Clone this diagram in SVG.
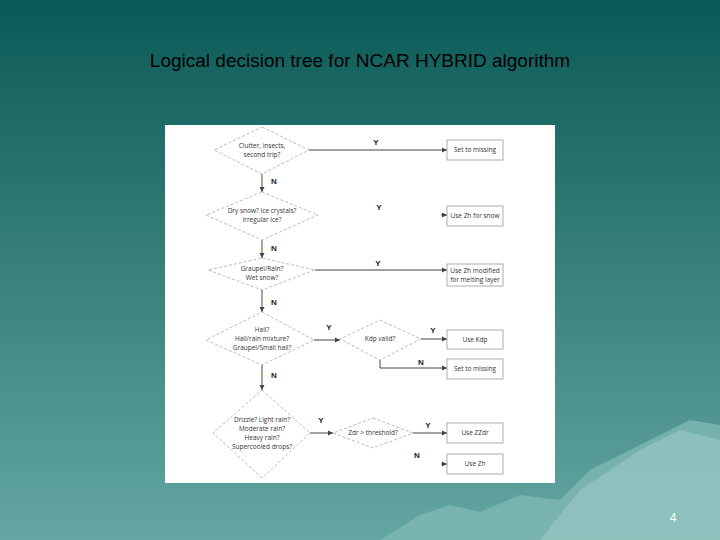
<svg xmlns="http://www.w3.org/2000/svg" width="720" height="540" viewBox="0 0 720 540">
<defs>
<linearGradient id="bg" x1="0" y1="0" x2="0" y2="1"><stop offset="0" stop-color="#0b5a57"/><stop offset="1" stop-color="#64a6a2"/></linearGradient>
<marker id="ar" markerWidth="6" markerHeight="6" refX="5" refY="3" orient="auto"><path d="M0,0.5 L5,3 L0,5.5 Z" fill="#444"/></marker>
</defs>
<style>
.d{fill:#fff;stroke:#aaa;stroke-width:0.8;stroke-dasharray:3,2}
.b{fill:#fff;stroke:#999;stroke-width:0.8}
.t{font-family:"Open Sans","Liberation Sans",sans-serif;font-size:6.5px;fill:#333;text-anchor:middle}
.l{font-family:"Liberation Sans",sans-serif;font-size:8px;font-weight:bold;fill:#222;text-anchor:middle}
.c{stroke:#444;stroke-width:1;fill:none;marker-end:url(#ar)}
</style>
<rect width="720" height="540" fill="url(#bg)"/>
<path d="M380,540 L420,515 L450,505 L480,512 L520,495 L560,500 L590,470 L620,455 L650,440 L690,420 L720,425 L720,540 Z" fill="#7fb8b4" opacity="0.8"/>
<path d="M540,540 L580,490 L610,470 L640,450 L680,430 L720,440 L720,540 Z" fill="#9ccac6" opacity="0.6"/>
<text x="360" y="67" font-family="Liberation Sans,sans-serif" font-size="19" fill="#000" text-anchor="middle">Logical decision tree for NCAR HYBRID algorithm</text>
<text x="673" y="522" font-family="Liberation Sans,sans-serif" font-size="12" fill="#fff" text-anchor="middle">4</text>
<rect x="165" y="125" width="390" height="358" fill="#fff"/>
<g id="connectors">
<path class="c" d="M309,150 H447"/>
<path class="c" d="M262,174 V192"/>
<path class="c" d="M441,215 H447"/>
<path class="c" d="M262,240 V258"/>
<path class="c" d="M315,270 H447"/>
<path class="c" d="M262,290 V312"/>
<path class="c" d="M314,340 H340"/>
<path class="c" d="M421,339 H447"/>
<path class="c" d="M380,360 V368 H447"/>
<path class="c" d="M262,365 V390"/>
<path class="c" d="M310,433 H333"/>
<path class="c" d="M413,433 H447"/>
<path class="c" d="M441,464 H447"/>
<text class="l" x="376" y="145">Y</text><text class="l" x="274" y="184">N</text>
<text class="l" x="379" y="210">Y</text><text class="l" x="274" y="251">N</text>
<text class="l" x="378" y="266">Y</text><text class="l" x="274" y="305">N</text>
<text class="l" x="329" y="330">Y</text><text class="l" x="433" y="333">Y</text>
<text class="l" x="421" y="365">N</text><text class="l" x="274" y="378">N</text>
<text class="l" x="321" y="423">Y</text><text class="l" x="428" y="428">Y</text>
<text class="l" x="417" y="458">N</text>
</g>
<g id="n1"><path class="d" d="M262,127 L309,150 L262,174 L214,150 Z"/><text class="t" x="262" y="148">Clutter, insects,</text><text class="t" x="262" y="157">second trip?</text></g>
<g id="n2"><rect class="b" x="447" y="140" width="56" height="20"/><text class="t" x="475" y="152">Set to missing</text></g>
<g id="n3"><path class="d" d="M262,192 L318,215 L262,240 L206,215 Z"/><text class="t" x="262" y="213">Dry snow? Ice crystals?</text><text class="t" x="262" y="222">Irregular ice?</text></g>
<g id="n4"><rect class="b" x="447" y="206" width="56" height="20"/><text class="t" x="475" y="218">Use Zh for snow</text></g>
<g id="n5"><path class="d" d="M262,258 L315,270 L262,290 L208,270 Z"/><text class="t" x="262" y="271">Graupel/Rain?</text><text class="t" x="262" y="280">Wet snow?</text></g>
<g id="n6"><rect class="b" x="447" y="264" width="56" height="22"/><text class="t" x="475" y="273">Use Zh modified</text><text class="t" x="475" y="282">for melting layer</text></g>
<g id="n7"><path class="d" d="M262,312 L314,340 L262,365 L206,340 Z"/><text class="t" x="262" y="332">Hail?</text><text class="t" x="262" y="341">Hail/rain mixture?</text><text class="t" x="262" y="350">Graupel/Small hail?</text></g>
<g id="n8"><path class="d" d="M380,320 L421,339 L380,360 L340,339 Z"/><text class="t" x="380" y="341">Kdp valid?</text></g>
<g id="n9"><rect class="b" x="447" y="330" width="56" height="19"/><text class="t" x="475" y="342">Use Kdp</text></g>
<g id="n10"><rect class="b" x="447" y="359" width="56" height="20"/><text class="t" x="475" y="371">Set to missing</text></g>
<g id="n11"><path class="d" d="M262,390 L310,433 L262,478 L213,433 Z"/><text class="t" x="262" y="422">Drizzle? Light rain?</text><text class="t" x="262" y="431">Moderate rain?</text><text class="t" x="262" y="440">Heavy rain?</text><text class="t" x="262" y="449">Supercooled drops?</text></g>
<g id="n12"><path class="d" d="M373,418 L413,433 L373,448 L333,433 Z"/><text class="t" x="373" y="435">Zdr &gt; threshold?</text></g>
<g id="n13"><rect class="b" x="447" y="423" width="56" height="20"/><text class="t" x="475" y="435">Use ZZdr</text></g>
<g id="n14"><rect class="b" x="447" y="454" width="56" height="20"/><text class="t" x="475" y="466">Use Zh</text></g>
</svg>
